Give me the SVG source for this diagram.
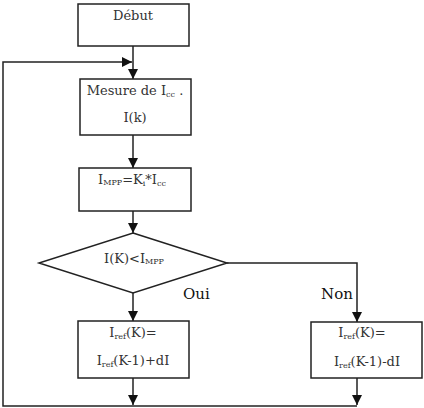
<svg xmlns="http://www.w3.org/2000/svg" width="424" height="408" viewBox="0 0 424 408">
<style>
.box{fill:#fff;stroke:#222;stroke-width:1.5}
.ln{fill:none;stroke:#222;stroke-width:1.5}
text{font-family:'DejaVu Serif',serif}
.t{font-size:13px;fill:#333;text-anchor:middle}
.lb{font-size:15px;fill:#111}
.s{font-size:8px}
</style>
<defs>
<marker id="ah" viewBox="0 0 10 10" refX="10" refY="5" markerWidth="10" markerHeight="10" markerUnits="userSpaceOnUse" orient="auto">
<path d="M0,0 L10,5 L0,10 Z" fill="#111"/>
</marker>
</defs>
<rect width="424" height="408" fill="#fff"/>
<g id="connectors">
<line class="ln" x1="133" y1="46" x2="133" y2="79" marker-end="url(#ah)"/>
<polyline class="ln" points="133,406 3,406 3,62 132,62" marker-end="url(#ah)"/>
<line class="ln" x1="133" y1="135" x2="133" y2="168" marker-end="url(#ah)"/>
<line class="ln" x1="133" y1="211" x2="133" y2="233" marker-end="url(#ah)"/>
<line class="ln" x1="133" y1="293" x2="133" y2="321" marker-end="url(#ah)"/>
<polyline class="ln" points="227,263 357,263 357,322" marker-end="url(#ah)"/>
<line class="ln" x1="133" y1="378" x2="133" y2="405" marker-end="url(#ah)"/>
<line class="ln" x1="357" y1="378" x2="357" y2="405" marker-end="url(#ah)"/>
<line class="ln" x1="133" y1="406" x2="357" y2="406"/>
<text class="lb" x="183" y="299">Oui</text>
<text class="lb" x="321" y="299">Non</text>
</g>
<g id="debut">
<rect class="box" x="78" y="4" width="111" height="42"/>
<text class="t" x="133" y="20">Début</text>
</g>
<g id="mesure">
<rect class="box" x="80" y="79" width="111" height="56"/>
<text class="t" x="135" y="95">Mesure de I<tspan class="s" dy="2">cc</tspan><tspan dy="-2"> .</tspan></text>
<text class="t" x="135" y="122">I(k)</text>
</g>
<g id="impp">
<rect class="box" x="79" y="168" width="112" height="43"/>
<text class="t" x="132" y="184">I<tspan class="s" dy="1">MPP</tspan><tspan dy="-1">=K</tspan><tspan class="s" dy="2">i</tspan><tspan dy="-2">*I</tspan><tspan class="s" dy="2">cc</tspan></text>
</g>
<g id="decision">
<polygon class="box" points="133,233 227,263 133,293 39,263"/>
<text class="t" x="134" y="263">I(K)&lt;I<tspan class="s" dy="1">MPP</tspan></text>
</g>
<g id="plus">
<rect class="box" x="78" y="321" width="111" height="57"/>
<text class="t" x="133" y="337">I<tspan class="s" dy="2">ref</tspan><tspan dy="-2">(K)=</tspan></text>
<text class="t" x="133" y="365">I<tspan class="s" dy="2">ref</tspan><tspan dy="-2">(K-1)+dI</tspan></text>
</g>
<g id="minus">
<rect class="box" x="311" y="322" width="111" height="56"/>
<text class="t" x="362" y="337">I<tspan class="s" dy="2">ref</tspan><tspan dy="-2">(K)=</tspan></text>
<text class="t" x="367" y="366">I<tspan class="s" dy="2">ref</tspan><tspan dy="-2">(K-1)-dI</tspan></text>
</g>
</svg>
